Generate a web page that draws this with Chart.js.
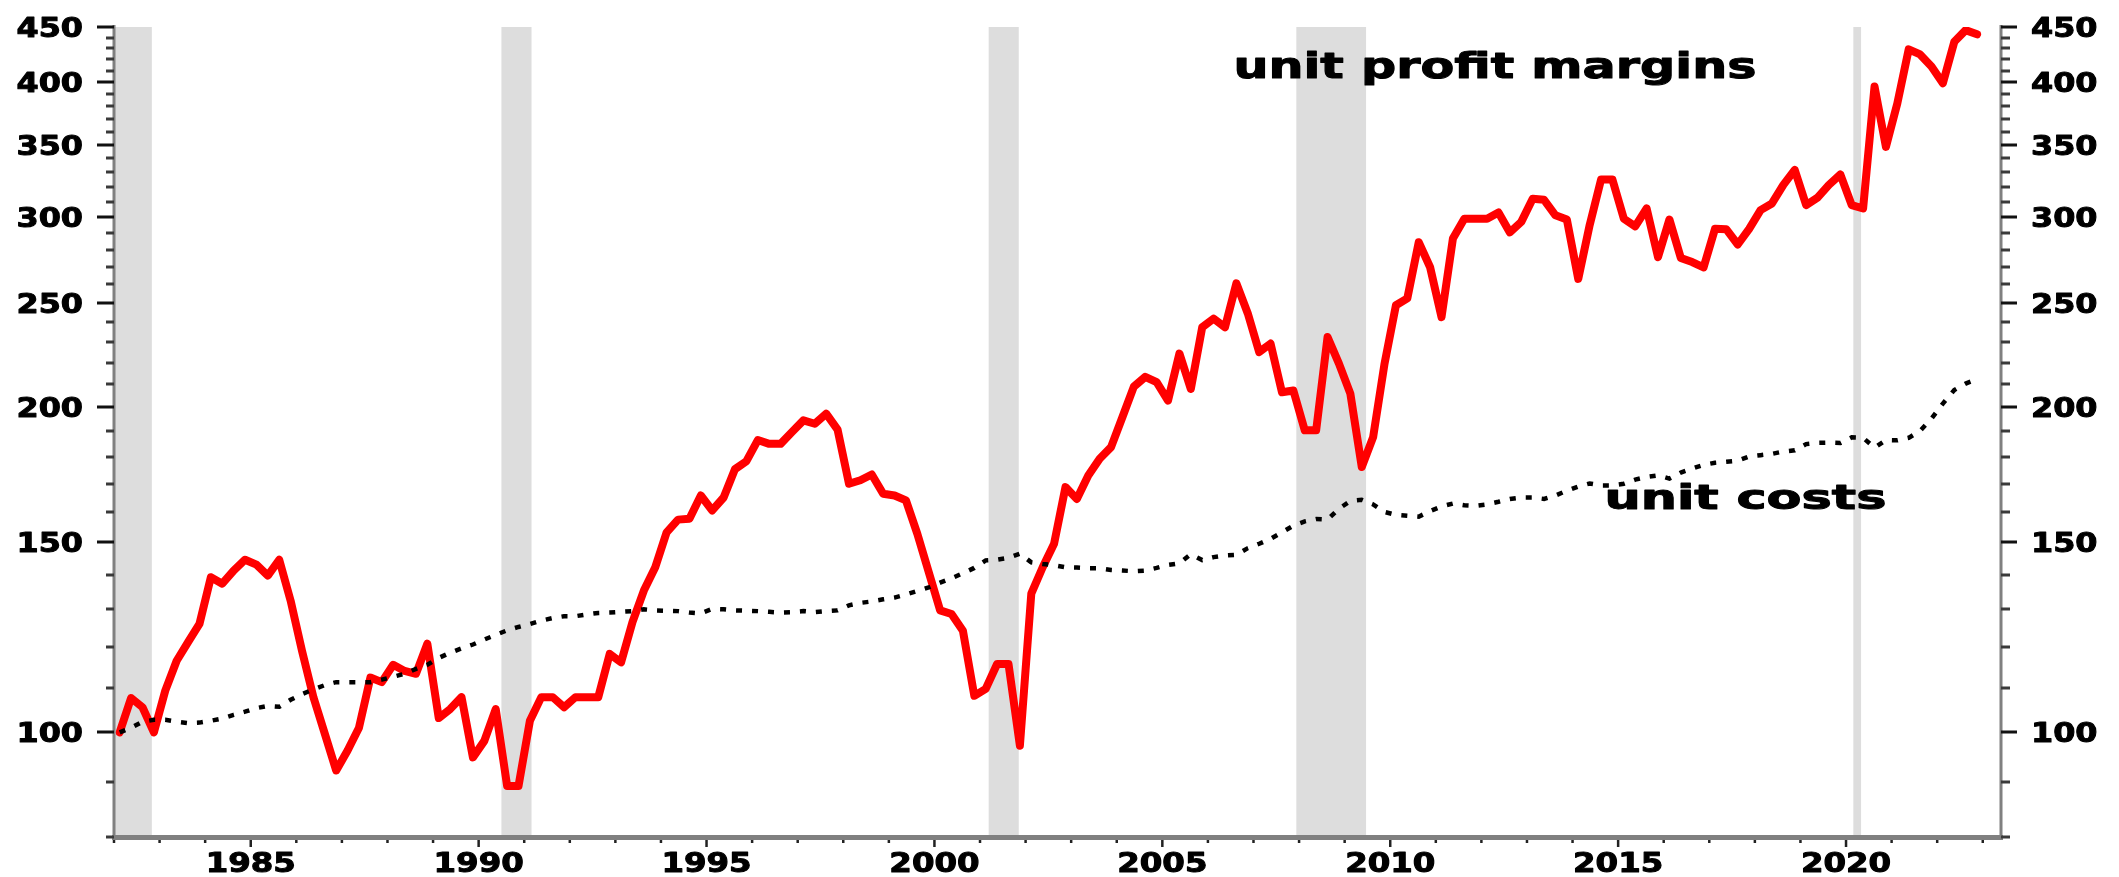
<!DOCTYPE html>
<html>
<head>
<meta charset="utf-8">
<title>Unit profit margins and unit costs</title>
<script src="https://cdn.jsdelivr.net/npm/chart.js@4.4.1/dist/chart.umd.min.js"></script>
<style>
  html, body { margin: 0; padding: 0; background: #fff; }
  #wrap { width: 2119px; height: 877px; }
</style>
</head>
<body>
<div id="wrap"><canvas id="chart" width="2119" height="877"></canvas></div>
<script>
// Quarterly index values, 1982Q1 = 100 (one row per year, Q1..Q4)
const firstYear = 1982;
const lastYear = 2022;

const profitMargins = [
    100, 107.6, 105.5, 100,       // 1982
    109.3, 116.5, 121.2, 126,     // 1983
    139.2, 137.3, 141.2, 144.5,   // 1984
    143, 139.7, 144.5, 132.4,     // 1985
    119, 107.8, 99.7, 92.2,       // 1986
    96.2, 101, 112.4, 111.3,      // 1987
    115.5, 114, 113.3, 120.8,     // 1988
    103.1, 105.1, 107.8, 94.8,    // 1989
    98.2, 105.1, 89.2, 89.2,      // 1990
    102.5, 107.8, 107.8, 105.5,   // 1991
    107.8, 107.8, 107.8, 118.2,   // 1992
    116.1, 126.5, 135.3, 142.2,   // 1993
    153.2, 157.4, 157.7, 165.7,   // 1994
    160.5, 165, 175.3, 178.3,     // 1995
    186.5, 185, 185, 189.7,       // 1996
    194.5, 193.1, 197.3, 190.7,   // 1997
    169.9, 171.2, 173.3, 166.3,   // 1998
    165.7, 164, 152.7, 140.7,     // 1999
    129.7, 128.7, 124.2, 108.1,   // 2000
    109.7, 115.7, 115.7, 97.2,    // 2001
    134.4, 142.2, 149.5, 168.7,   // 2002
    164.5, 172.9, 179.2, 183.7,   // 2003
    195.9, 209, 213.4, 211,       // 2004
    202.9, 224.3, 208, 237.2,     // 2005
    241.6, 237.2, 260.5, 244.3,   // 2006
    225, 229.1, 206.5, 207.3,     // 2007
    190.4, 190.4, 232.3, 219.5,   // 2008
    205.9, 176.1, 187.7, 219.5,   // 2009
    248.6, 252.3, 284.4, 269.6,   // 2010
    242.4, 286.6, 299, 299,       // 2011
    299, 303, 290.4, 297,         // 2012
    312, 311.3, 301.2, 298.5,     // 2013
    263, 294.9, 325, 325,         // 2014
    299, 294.2, 305.6, 275.5,     // 2015
    298.5, 275, 272.6, 269.5,     // 2016
    292.6, 292.3, 283, 292.6,     // 2017
    304.5, 308.9, 321.4, 331.8,   // 2018
    307.8, 312.7, 321.4, 328.6,   // 2019
    307.8, 305.6, 396.3, 348.5,   // 2020
    382.3, 429.1, 424.4, 413.7,   // 2021
    399.1, 436, 447, 443          // 2022
];

const unitCosts = [
    100, 101, 102.3, 102.7,       // 1982
    102.7, 102.3, 102, 102.1,     // 1983
    102.5, 103, 103.8, 104.5,     // 1984
    105.3, 105.8, 105.6, 107.2,   // 1985
    108.5, 109.6, 110.6, 111.3,   // 1986
    111.3, 111.3, 111.3, 111.9,   // 1987
    112.6, 113.3, 114.5, 115.5,   // 1988
    117.2, 118.5, 119.6, 120.6,   // 1989
    121.9, 123.1, 124.3, 125.2,   // 1990
    126, 126.9, 127.6, 128.1,     // 1991
    128.1, 128.6, 129, 129.1,     // 1992
    129.3, 129.5, 130, 129.7,     // 1993
    129.6, 129.5, 129.1, 128.9,   // 1994
    130.1, 130, 129.7, 129.6,     // 1995
    129.5, 129.3, 129.1, 129.2,   // 1996
    129.5, 129.2, 129.5, 129.7,   // 1997
    131.1, 131.8, 132.2, 132.8,   // 1998
    133.3, 134.2, 135.2, 136.2,   // 1999
    137.6, 138.9, 140.4, 142,     // 2000
    144.3, 144.5, 145.1, 146.4,   // 2001
    143.7, 143.2, 142.8, 142.2,   // 2002
    142.1, 141.9, 141.9, 141.4,   // 2003
    141.2, 141, 141.2, 142,       // 2004
    142.9, 143.4, 146.2, 144.4,   // 2005
    145.3, 145.8, 146, 148.1,     // 2006
    149.5, 151.1, 153.2, 155.4,   // 2007
    156.8, 157.6, 157.4, 161.1,   // 2008
    163.8, 164.2, 162.6, 160,     // 2009
    159, 158.7, 158.4, 160.3,     // 2010
    161.9, 162.9, 162.3, 162.1,   // 2011
    162.6, 163.5, 164.5, 165,     // 2012
    165, 164.5, 165.7, 167.4,     // 2013
    168.9, 170, 169.3, 169.3,     // 2014
    169.9, 171.4, 172.4, 173,     // 2015
    171.8, 174, 175.5, 176.9,     // 2016
    177.7, 178.1, 178.5, 180.1,   // 2017
    180.6, 181.1, 182, 182.5,     // 2018
    184.9, 185.4, 185.5, 185.3,   // 2019
    187.6, 187.4, 183.5, 186.5,   // 2020
    186.4, 187.4, 190.2, 195.2,   // 2021
    201.6, 207.5, 210.4, 212.3    // 2022
];

// Recession periods (decimal years) for the grey bands
const recessionStart = [1982.0, 1990.5, 2001.19, 2007.94, 2020.16];
const recessionEnd = [1982.83, 1991.16, 2001.85, 2009.47, 2020.33];

// Axis ticks
const yTickValues = [80, 90, 100, 110, 120, 130, 140, 150, 160, 170, 180, 190, 200,
    210, 220, 230, 240, 250, 260, 270, 280, 290, 300, 310, 320, 330, 340, 350,
    360, 370, 380, 390, 400, 410, 420, 430, 440, 450];
const yTickLabels = [100, 150, 200, 250, 300, 350, 400, 450];
const xLabelYears = [1985, 1990, 1995, 2000, 2005, 2010, 2015, 2020];

// Text labels placed on the chart (data coordinates: year, index value)
const annotations = [
    { text: 'unit profit margins', year: 2006.56, value: 404, size: 36, width: 523 },
    { text: 'unit costs', year: 2014.7, value: 161.1, size: 33, width: 282 }
];

// Quarter positions (middle of each quarter) and yearly tick positions
const quarterX = [];
for (let yr = firstYear; yr <= lastYear; yr++) {
    for (let q = 0; q < 4; q++) quarterX.push(yr + (q + 0.5) / 4);
}
const xTickYears = [];
for (let yr = firstYear; yr <= lastYear + 1; yr++) xTickYears.push(yr);

const FONT = '"DejaVu Sans", Verdana, sans-serif';

/**
 * Draw heavy text stretched horizontally (the original uses a wide, black face)
 */
function stretchText(ctx, text, x, y, sx, align, weight) {
    ctx.save();
    ctx.translate(x, y);
    ctx.scale(sx, 1);
    ctx.textAlign = align;
    ctx.textBaseline = 'alphabetic';
    ctx.fillText(text, 0, 0);
    if (weight) {
        ctx.lineWidth = weight;
        ctx.lineJoin = 'round';
        ctx.strokeText(text, 0, 0);
    }
    ctx.restore();
}

function drawAxes(chart) {
    const { ctx, chartArea: a, scales: { x, y } } = chart;
    ctx.save();

    // axis lines
    ctx.strokeStyle = '#808080';
    ctx.lineWidth = 3;
    ctx.beginPath();
    ctx.moveTo(a.left, a.top - 2);
    ctx.lineTo(a.left, a.bottom);
    ctx.moveTo(a.right, a.top - 2);
    ctx.lineTo(a.right, a.bottom);
    ctx.stroke();
    ctx.lineWidth = 5;
    ctx.beginPath();
    ctx.moveTo(a.left - 2, a.bottom + 0.5);
    ctx.lineTo(a.right + 2, a.bottom + 0.5);
    ctx.stroke();

    // y ticks, both sides
    ctx.lineWidth = 3;
    yTickValues.forEach(v => {
        const py = Math.round(y.getPixelForValue(v));
        const major = yTickLabels.includes(v);
        ctx.strokeStyle = major ? '#111' : '#3a3a3a';
        ctx.beginPath();
        ctx.moveTo(a.left - (major ? 17 : 8), py);
        ctx.lineTo(a.left, py);
        ctx.moveTo(a.right, py);
        ctx.lineTo(a.right + (major ? 16 : 9), py);
        ctx.stroke();
    });

    // x ticks, one per year
    ctx.strokeStyle = '#222';
    ctx.lineWidth = 2.5;
    xTickYears.forEach(yr => {
        const px = x.getPixelForValue(yr);
        if (px > a.right + 1) return;
        ctx.beginPath();
        ctx.moveTo(px, a.bottom + 3);
        ctx.lineTo(px, a.bottom + (yr % 5 === 0 ? 10 : 6));
        ctx.stroke();
    });

    // labels
    ctx.fillStyle = '#000';
    ctx.strokeStyle = '#000';
    ctx.font = 'bold 27px ' + FONT;
    yTickLabels.forEach(v => {
        const py = y.getPixelForValue(v) + 10;
        stretchText(ctx, String(v), a.left - 31, py, 1.18, 'right', 1);
        stretchText(ctx, String(v), a.right + 30, py, 1.18, 'left', 1);
    });
    xLabelYears.forEach(yr => {
        stretchText(ctx, String(yr), x.getPixelForValue(yr), a.bottom + 35, 1.2, 'center', 1);
    });

    ctx.restore();
}

function drawAnnotations(chart) {
    const { ctx, scales: { x, y } } = chart;
    ctx.save();
    ctx.fillStyle = '#000';
    ctx.strokeStyle = '#000';
    annotations.forEach(t => {
        ctx.font = 'bold ' + t.size + 'px ' + FONT;
        const natural = ctx.measureText(t.text).width;
        stretchText(ctx, t.text, x.getPixelForValue(t.year), y.getPixelForValue(t.value),
            t.width / natural, 'left', 1);
    });
    ctx.restore();
}

const chartDecor = {
    id: 'chartDecor',
    beforeDatasetsDraw(chart) {
        // recession shading behind the lines
        const { ctx, chartArea: a, scales: { x } } = chart;
        ctx.save();
        ctx.fillStyle = '#dddddd';
        recessionStart.forEach((s, i) => {
            const x0 = x.getPixelForValue(s);
            const x1 = x.getPixelForValue(recessionEnd[i]);
            ctx.fillRect(x0, a.top, x1 - x0, a.bottom - a.top);
        });
        ctx.restore();
    },
    afterDatasetsDraw(chart) {
        drawAxes(chart);
        drawAnnotations(chart);
    }
};

const toPoints = values => values.map((v, i) => ({ x: quarterX[i], y: v }));

new Chart(document.getElementById('chart'), {
    type: 'line',
    data: {
        datasets: [
            {
                label: 'unit costs',
                data: toPoints(unitCosts),
                borderColor: '#000',
                borderWidth: 4.5,
                borderDash: [6, 10],
                pointRadius: 0,
                order: 0
            },
            {
                label: 'unit profit margins',
                data: toPoints(profitMargins),
                borderColor: '#ff0000',
                borderWidth: 8,
                borderJoinStyle: 'round',
                borderCapStyle: 'round',
                pointRadius: 0,
                order: 1
            }
        ]
    },
    options: {
        responsive: false,
        animation: false,
        events: [],
        layout: { padding: { top: 27, right: 118, left: 0, bottom: 0 } },
        plugins: {
            legend: { display: false },
            tooltip: { enabled: false }
        },
        scales: {
            x: {
                type: 'linear',
                min: 1982,
                max: 2023.4,
                ticks: { display: false },
                grid: { display: false },
                border: { display: false },
                afterFit: s => { s.height = 40; }
            },
            y: {
                type: 'logarithmic',
                min: 80,
                max: 450,
                ticks: { display: false },
                grid: { display: false },
                border: { display: false },
                afterFit: s => { s.width = 114; }
            }
        }
    },
    plugins: [chartDecor]
});
</script>
</body>
</html>
